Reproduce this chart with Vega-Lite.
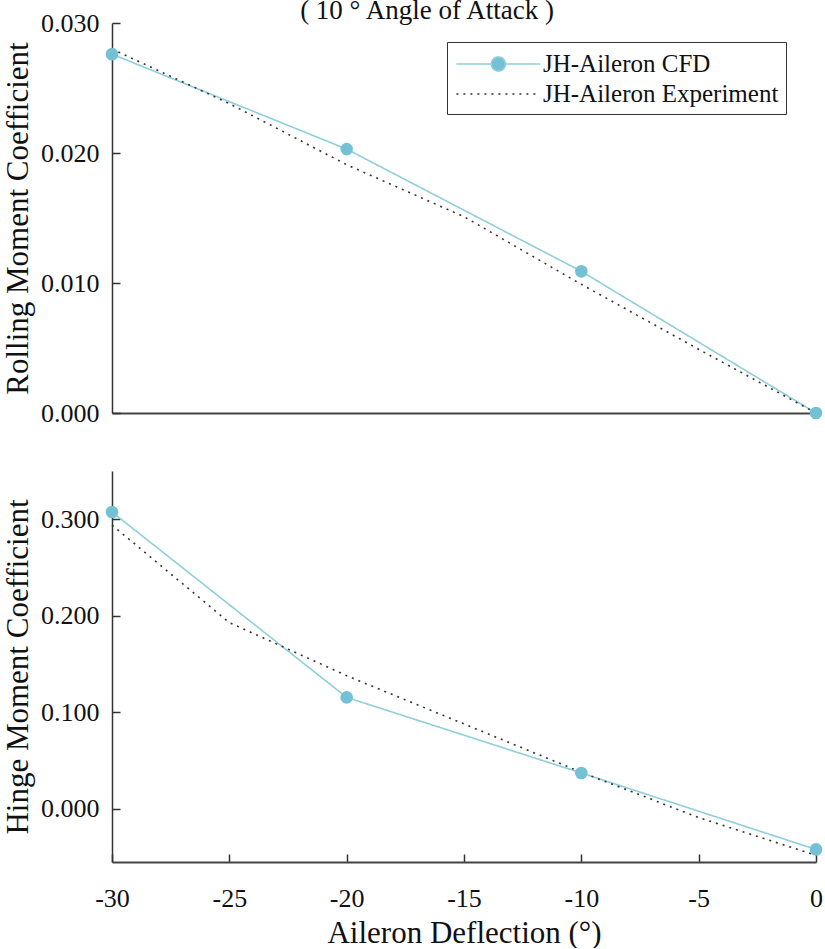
{
  "$schema": "https://vega.github.io/schema/vega-lite/v6.json",
  "padding": {"left": 2, "top": -3, "right": 0, "bottom": 0},
  "background": "white",
  "config": {
    "font": "Liberation Serif",
    "title": {"font": "Liberation Serif", "fontWeight": "normal"},
    "view": {"stroke": null},
    "axis": {
      "grid": false,
      "domainColor": "#333",
      "domainWidth": 1.5,
      "tickColor": "#333",
      "tickWidth": 1.5,
      "tickSize": -8,
      "labelFont": "Liberation Serif",
      "labelFontSize": 26,
      "labelColor": "#111",
      "labelFlush": false,
      "labelOverlap": false,
      "titleFont": "Liberation Serif",
      "titleFontSize": 31,
      "titleFontWeight": "normal",
      "titleColor": "#111"
    }
  },
  "datasets": {
    "roll": [
      {"series": "JH-Aileron CFD", "deflection": -30, "coefficient": 0.0276},
      {"series": "JH-Aileron CFD", "deflection": -20, "coefficient": 0.0203},
      {"series": "JH-Aileron CFD", "deflection": -10, "coefficient": 0.0109},
      {"series": "JH-Aileron CFD", "deflection": 0, "coefficient": 0.0},
      {"series": "JH-Aileron Experiment", "deflection": -30, "coefficient": 0.0280},
      {"series": "JH-Aileron Experiment", "deflection": -25, "coefficient": 0.0238},
      {"series": "JH-Aileron Experiment", "deflection": -20, "coefficient": 0.0191},
      {"series": "JH-Aileron Experiment", "deflection": -15, "coefficient": 0.0151},
      {"series": "JH-Aileron Experiment", "deflection": -10, "coefficient": 0.0099},
      {"series": "JH-Aileron Experiment", "deflection": -5, "coefficient": 0.0049},
      {"series": "JH-Aileron Experiment", "deflection": 0, "coefficient": 0.0}
    ],
    "hinge": [
      {"series": "JH-Aileron CFD", "deflection": -30, "coefficient": 0.3075},
      {"series": "JH-Aileron CFD", "deflection": -20, "coefficient": 0.1155},
      {"series": "JH-Aileron CFD", "deflection": -10, "coefficient": 0.0372},
      {"series": "JH-Aileron CFD", "deflection": 0, "coefficient": -0.042},
      {"series": "JH-Aileron Experiment", "deflection": -30, "coefficient": 0.294},
      {"series": "JH-Aileron Experiment", "deflection": -25, "coefficient": 0.193},
      {"series": "JH-Aileron Experiment", "deflection": -20, "coefficient": 0.138},
      {"series": "JH-Aileron Experiment", "deflection": -15, "coefficient": 0.088},
      {"series": "JH-Aileron Experiment", "deflection": -10, "coefficient": 0.038},
      {"series": "JH-Aileron Experiment", "deflection": -5, "coefficient": -0.009},
      {"series": "JH-Aileron Experiment", "deflection": 0, "coefficient": -0.048}
    ]
  },
  "spacing": 45,
  "resolve": {
    "scale": {"color": "independent", "strokeDash": "independent"},
    "legend": {"color": "independent", "strokeDash": "independent"}
  },
  "vconcat": [
    {
      "width": 704,
      "height": 390,
      "data": {"name": "roll"},
      "title": {
        "text": "( 10 ° Angle of Attack )",
        "font": "Liberation Serif",
        "fontSize": 27,
        "fontWeight": "normal",
        "color": "#111",
        "anchor": "middle",
        "frame": "group",
        "dx": -37,
        "offset": -15
      },
      "encoding": {
        "x": {
          "field": "deflection",
          "type": "quantitative",
          "scale": {"domain": [-30, 0], "nice": false, "zero": false},
          "axis": {"labels": false, "ticks": false, "title": null, "domainWidth": 2, "domainColor": "#444"}
        },
        "y": {
          "field": "coefficient",
          "type": "quantitative",
          "scale": {"domain": [0, 0.03], "nice": false},
          "axis": {
            "title": "Rolling Moment Coefficient",
            "values": [0, 0.01, 0.02, 0.03],
            "format": ".3f",
            "labelPadding": 21,
            "titlePadding": 6
          }
        }
      },
      "layer": [
        {
          "mark": {"type": "line", "strokeWidth": 1.6},
          "encoding": {
            "color": {
              "field": "series",
              "type": "nominal",
              "scale": {"domain": ["JH-Aileron CFD", "JH-Aileron Experiment"], "range": ["#8fcfdc", "#333333"]},
              "legend": {
                "title": null,
                "orient": "none",
                "legendX": 335,
                "legendY": 19,
                "labelFont": "Liberation Serif",
                "labelFontSize": 25,
                "labelColor": "#111",
                "labelLimit": 400,
                "labelOffset": 59,
                "padding": 7,
                "rowPadding": 2,
                "strokeColor": "#333",
                "fillColor": "white",
                "symbolSize": 784,
                "symbolStrokeWidth": 1.6,
                "encode": {
                  "symbols": {
                    "update": {
                      "shape": [
                        {"test": "datum.value === 'JH-Aileron CFD'", "value": "M-0.9,0L1.6,0M2.6,0L5.1,0M1.6,0A0.5,0.5 0 1,0 2.6,0A0.5,0.5 0 1,0 1.6,0"},
                        {"value": "M-0.9,0L5.1,0"}
                      ],
                      "fill": [
                        {"test": "datum.value === 'JH-Aileron CFD'", "value": "#74c1d6"},
                        {"value": "transparent"}
                      ],
                      "opacity": {"value": 1}
                    }
                  }
                }
              }
            },
            "strokeDash": {
              "field": "series",
              "type": "nominal",
              "scale": {"domain": ["JH-Aileron CFD", "JH-Aileron Experiment"], "range": [[1, 0], [2, 5]]},
              "legend": {
                "title": null,
                "orient": "none",
                "legendX": 335,
                "legendY": 19
              }
            }
          }
        },
        {
          "transform": [{"filter": "datum.series === 'JH-Aileron CFD'"}],
          "mark": {"type": "point", "filled": true, "opacity": 1, "size": 160, "color": "#74c1d6"}
        }
      ]
    },
    {
      "width": 704,
      "height": 391,
      "data": {"name": "hinge"},
      "encoding": {
        "x": {
          "field": "deflection",
          "type": "quantitative",
          "scale": {"domain": [-30, 0], "nice": false, "zero": false},
          "axis": {
            "title": "Aileron Deflection (°)",
            "values": [-30, -25, -20, -15, -10, -5, 0],
            "labelExpr": "replace(datum.label, '\u2212', '-')",
            "labelPadding": 31,
            "titlePadding": 7,
            "domainWidth": 2,
            "domainColor": "#444"
          }
        },
        "y": {
          "field": "coefficient",
          "type": "quantitative",
          "scale": {"domain": [-0.055, 0.35], "nice": false, "zero": false},
          "axis": {
            "title": "Hinge Moment Coefficient",
            "values": [0, 0.1, 0.2, 0.3],
            "format": ".3f",
            "labelPadding": 21,
            "titlePadding": 6
          }
        }
      },
      "layer": [
        {
          "mark": {"type": "line", "strokeWidth": 1.6},
          "encoding": {
            "color": {
              "field": "series",
              "type": "nominal",
              "scale": {"domain": ["JH-Aileron CFD", "JH-Aileron Experiment"], "range": ["#8fcfdc", "#333333"]},
              "legend": null
            },
            "strokeDash": {
              "field": "series",
              "type": "nominal",
              "scale": {"domain": ["JH-Aileron CFD", "JH-Aileron Experiment"], "range": [[1, 0], [2, 5]]},
              "legend": null
            }
          }
        },
        {
          "transform": [{"filter": "datum.series === 'JH-Aileron CFD'"}],
          "mark": {"type": "point", "filled": true, "opacity": 1, "size": 160, "color": "#74c1d6"}
        }
      ]
    }
  ]
}
